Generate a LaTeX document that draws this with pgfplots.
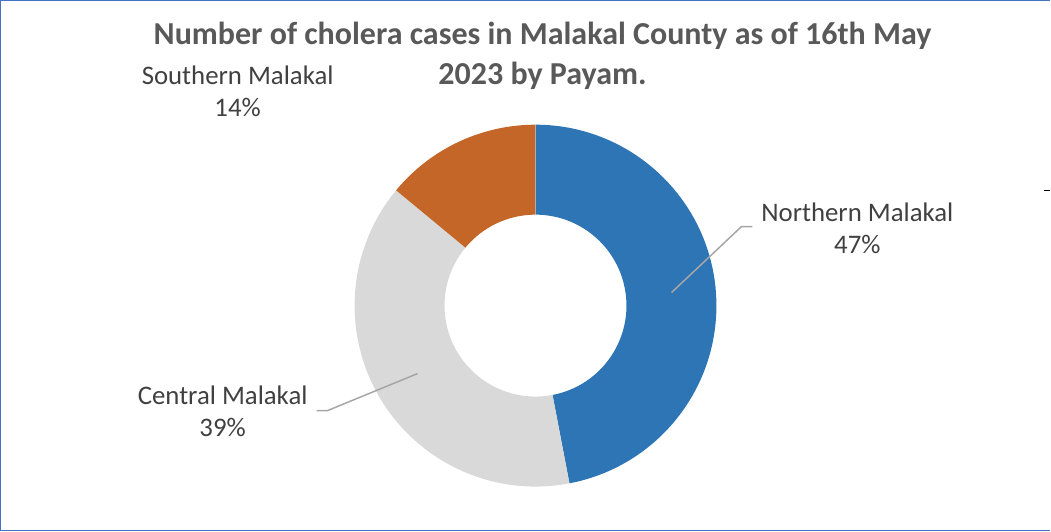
\documentclass[border=0pt]{standalone}
\usepackage{pgfplots}
\pgfplotsset{compat=1.18}
\usepackage{pgfplotstable}
\usepackage{fontspec}
\setmainfont{Carlito}
\definecolor{nblue}{HTML}{2E75B6}
\definecolor{cgray}{HTML}{D9D9D9}
\definecolor{sorange}{HTML}{C46628}
\definecolor{ttl}{HTML}{595959}
\definecolor{lbl}{HTML}{404040}
\definecolor{lead}{HTML}{A6A6A6}
\definecolor{frame}{HTML}{4472C4}
\pgfplotstableread{
name value
Northern 47
Central 39
Southern 14
}\datatable
\begin{document}
\begin{tikzpicture}
\pgfplotstablegetelem{0}{value}\of\datatable \pgfmathsetmacro\va{\pgfplotsretval}
\pgfplotstablegetelem{1}{value}\of\datatable \pgfmathsetmacro\vb{\pgfplotsretval}
\pgfplotstablegetelem{2}{value}\of\datatable \pgfmathsetmacro\vc{\pgfplotsretval}
\pgfmathsetmacro\tot{\va+\vb+\vc}
\pgfmathsetmacro\aA{90}
\pgfmathsetmacro\aB{\aA-(\va/\tot)*360}
\pgfmathsetmacro\aC{\aB-(\vb/\tot)*360}
\pgfmathsetmacro\aD{\aC-(\vc/\tot)*360}
\begin{axis}[
  width=1051bp, height=533bp, scale only axis,
  xmin=-536, xmax=515, ymin=-227, ymax=306,
  hide axis, clip=false,
]
\addplot[draw=none] coordinates {(0,0)};
\fill[nblue] (axis cs:{181*cos(\aA)},{181*sin(\aA)}) arc[start angle=\aA, end angle=\aB, radius=181bp]
  -- (axis cs:{91*cos(\aB)},{91*sin(\aB)}) arc[start angle=\aB, end angle=\aA, radius=91bp] -- cycle;
\fill[cgray] (axis cs:{181*cos(\aB)},{181*sin(\aB)}) arc[start angle=\aB, end angle=\aC, radius=181bp]
  -- (axis cs:{91*cos(\aC)},{91*sin(\aC)}) arc[start angle=\aC, end angle=\aB, radius=91bp] -- cycle;
\fill[sorange] (axis cs:{181*cos(\aC)},{181*sin(\aC)}) arc[start angle=\aC, end angle=\aD, radius=181bp]
  -- (axis cs:{91*cos(\aD)},{91*sin(\aD)}) arc[start angle=\aD, end angle=\aC, radius=91bp] -- cycle;
% leader lines
\draw[lead, line width=1.5bp] (axis cs:136,13) -- (axis cs:206,79) -- (axis cs:217,79);
\draw[lead, line width=1.5bp] (axis cs:-118,-68) -- (axis cs:-208,-105) -- (axis cs:-219,-105);
% labels
\node[lbl, align=center, font=\fontsize{26.8bp}{32bp}\selectfont] at (axis cs:322,77) {Northern Malakal\\47\%};
\node[lbl, align=center, font=\fontsize{26.8bp}{32bp}\selectfont] at (axis cs:-313,-106) {Central Malakal\\39\%};
\node[lbl, align=center, font=\fontsize{26.8bp}{32bp}\selectfont] at (axis cs:-298,214) {Southern Malakal\\14\%};
% title
\node[ttl, align=center, font=\fontsize{32bp}{40bp}\selectfont\bfseries] at (axis cs:7,250) {Number of cholera cases in Malakal County as of 16th May\\2023 by Payam.};
% frame
\draw[frame, line width=1.5bp] (axis cs:515,305) -- (axis cs:-535,305) -- (axis cs:-535,-225) -- (axis cs:515,-225);
\draw[black, line width=1.5bp] (axis cs:509,115) -- (axis cs:515,115);
\end{axis}
\end{tikzpicture}
\end{document}
